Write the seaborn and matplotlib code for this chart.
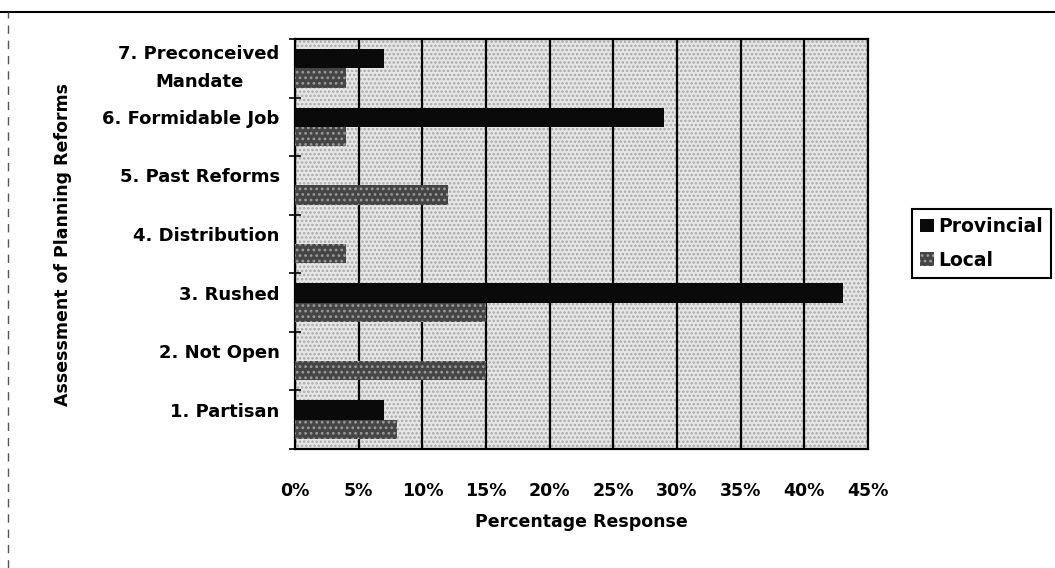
import matplotlib
matplotlib.use("Agg")
import matplotlib.pyplot as plt
from matplotlib.patches import Patch, Rectangle
from matplotlib.lines import Line2D
from matplotlib.ticker import FixedLocator, PercentFormatter
from matplotlib.transforms import ScaledTranslation
import pandas as pd
import seaborn as sns

# Survey results: share of respondents giving each assessment (%)
categories = [
    "7. Preconceived\nMandate",
    "6. Formidable Job",
    "5. Past Reforms",
    "4. Distribution",
    "3. Rushed",
    "2. Not Open",
    "1. Partisan",
]
provincial = [7, 29, 0, 0, 43, 0, 7]
local = [4, 4, 12, 4, 15, 15, 8]
series = ["Provincial", "Local"]
x_ticks = [0, 5, 10, 15, 20, 25, 30, 35, 40, 45]

df = pd.DataFrame({
    "Assessment": categories * 2,
    "Group": [series[0]] * len(categories) + [series[1]] * len(categories),
    "Percent": provincial + local,
})

sns.set_theme(style="white")
plt.rcParams["font.family"] = ["DejaVu Sans"]
plt.rcParams["font.weight"] = "bold"
plt.rcParams["text.color"] = "black"
plt.rcParams["axes.labelcolor"] = "black"
plt.rcParams["xtick.color"] = "black"
plt.rcParams["ytick.color"] = "black"
plt.rcParams["hatch.linewidth"] = 1.2

fig = plt.figure(figsize=(10.55, 5.68), dpi=100)
ax = fig.add_axes([295 / 1055, 1 - 449 / 568, (868 - 295) / 1055, (449 - 39) / 568])

# stippled plot-area background
ax.set_facecolor("#e6e6e6")
ax.add_patch(Rectangle((0, 0), 1, 1, transform=ax.transAxes, facecolor="none",
                       edgecolor="#a8a8a8", hatch="....", linewidth=0, zorder=0))

colors = {"Provincial": "#0a0a0a", "Local": "#454545"}
sns.barplot(data=df, y="Assessment", x="Percent", hue="Group", order=categories,
            hue_order=series, palette=colors, orient="h", width=0.66,
            saturation=1, legend=False, ax=ax, zorder=3)

# dotted fill for the Local bars
n = len(categories)
for patch in ax.containers[0]:
    patch.set_linewidth(0)
for patch in ax.containers[1]:
    patch.set_hatch("...")
    patch.set_edgecolor("#9a9a9a")
    patch.set_linewidth(0)

ax.set_xlim(0, 45)
ax.set_ylim(n - 0.5, -0.5)
ax.xaxis.set_major_locator(FixedLocator(x_ticks))
ax.xaxis.set_major_formatter(PercentFormatter(decimals=0))
ax.grid(axis="x", color="black", linewidth=1.6, zorder=1)
ax.set_axisbelow(True)
for s in ax.spines.values():
    s.set_color("black")
    s.set_linewidth(1.6)

ax.tick_params(axis="x", which="major", direction="out", length=4, width=1.2,
               color="black", pad=20, labelsize=12.5)
ax.tick_params(axis="y", which="major", length=0, pad=11, labelsize=13)
ax.yaxis.set_minor_locator(FixedLocator([i - 0.5 for i in range(n + 1)]))
ax.tick_params(axis="y", which="minor", direction="inout", length=8, width=1.2,
               color="black", left=True)

# category names sit slightly above the middle of their bar pair
lift = ScaledTranslation(0, 0.08, fig.dpi_scale_trans)
for lbl in ax.get_yticklabels():
    lbl.set_multialignment("center")
    lbl.set_linespacing(1.7)
    lbl.set_verticalalignment("center")
    lbl.set_fontweight("bold")
    if "\n" not in lbl.get_text():
        lbl.set_transform(lbl.get_transform() + lift)
for lbl in ax.get_xticklabels():
    lbl.set_fontweight("bold")

ax.set_xlabel("Percentage Response", fontsize=12.5, fontweight="bold")
ax.xaxis.set_label_coords(0.5, -0.155)
ax.set_ylabel("Assessment of Planning Reforms", fontsize=12.5, fontweight="bold")
ax.yaxis.set_label_coords(-0.39, 0.5)

handles = [
    Patch(facecolor=colors["Provincial"], edgecolor="none", label="Provincial"),
    Patch(facecolor=colors["Local"], edgecolor="#9a9a9a", hatch="...", linewidth=0, label="Local"),
]
leg = fig.legend(handles=handles, loc="upper left", bbox_to_anchor=(912 / 1055, 1 - 209 / 568),
                 frameon=True, fancybox=False, edgecolor="black", framealpha=1,
                 prop={"weight": "bold", "size": 13.5}, handlelength=0.7,
                 handleheight=0.7, handletextpad=0.25, labelspacing=0.75,
                 borderpad=0.45, borderaxespad=0)
leg.get_frame().set_linewidth(1.5)

# outer chart-area frame (top and left edges)
fig.add_artist(Line2D([0, 1], [1 - 12 / 568, 1 - 12 / 568], color="black", linewidth=1.5))
fig.add_artist(Line2D([8 / 1055, 8 / 1055], [0, 1 - 12 / 568], color="#555555",
                      linewidth=1, linestyle=(0, (6, 5))))

fig.savefig("out.png", dpi=100)
